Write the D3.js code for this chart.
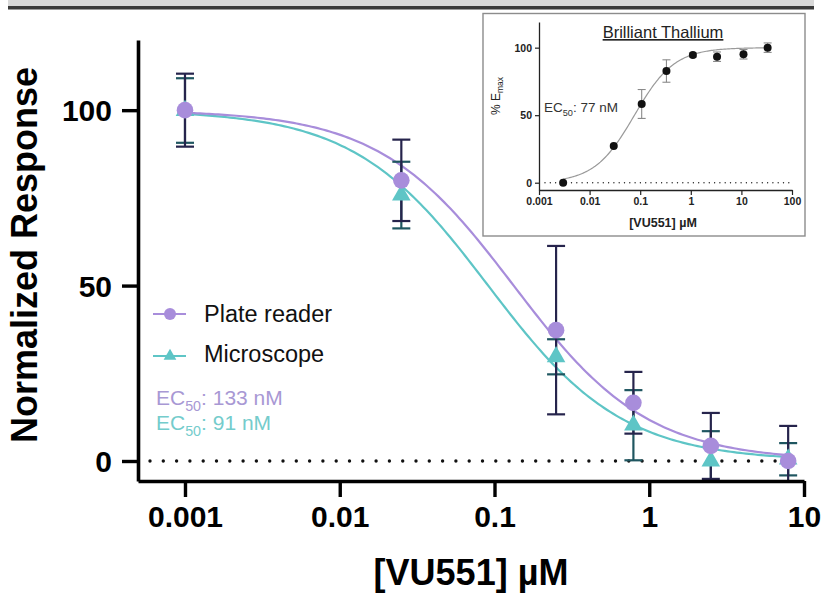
<!DOCTYPE html>
<html>
<head>
<meta charset="utf-8">
<script src="https://cdn.jsdelivr.net/npm/d3@7"></script>
<style>
  body { margin: 0; background: #fff; }
  svg { display: block; font-family: "Liberation Sans", Arial, Helvetica, sans-serif; }
</style>
</head>
<body>
<div id="chart"></div>
<script>
const W = 823, H = 594;

// ---------- data ----------
const doses = [0.001, 0.025, 0.25, 0.79, 2.5, 7.9];
const plateMean = [100, 80, 37.3, 16.6, 4.3, 0];
const plateErr = [10.4, 11.6, 24, 8.8, 9.4, 10];
const microMean = [99.9, 75.8, 29.7, 10.2, 0, 0.5];
const microErr = [9.2, 9.5, 5, 10, 8.5, 4.6];

// fitted curve parameters (EC50 in µM); hill < 0 means falling curve
const plateFit = {ec50: 0.133, hill: -1.0, top: 100, bottom: 0};
const microFit = {ec50: 0.091, hill: -1.0, top: 100, bottom: 0};

const xTicks = [0.001, 0.01, 0.1, 1, 10];
const yTicks = [0, 50, 100];

// inset: Brilliant Thallium
const insetDoses = [0.003, 0.03, 0.107, 0.33, 1.1, 3.3, 11, 33];
const insetMean = [0, 27.2, 58.3, 82.7, 94.6, 93.3, 95.1, 100];
const insetErr = [0, 0, 10.7, 8.3, 1.5, 3.5, 3.5, 3.5];
const insetFit = {ec50: 0.077, hill: 1.1, top: 100, bottom: 0};
const insetXTicks = [0.001, 0.01, 0.1, 1, 10, 100];
const insetYTicks = [0, 50, 100];

const purple = "#a88ddb", teal = "#5ec5c6";

const svg = d3.select("#chart").append("svg")
    .attr("width", W)
    .attr("height", H);

// grey header strip at top
svg.append("rect").attr("x", 8).attr("y", 0).attr("width", 806).attr("height", 6).attr("fill", "#d9d9d9");
svg.append("rect").attr("x", 8).attr("y", 6).attr("width", 806).attr("height", 3.5).attr("fill", "#3b3b3b");

// ---------- main chart ----------
const x = d3.scaleLog().domain([0.000497, 10]).range([138, 804]);
const y = d3.scaleLinear().domain([-5.7, 120]).range([481, 40]);

// 4-parameter logistic: rises with c when hill > 0
const hillFn = p => c => p.bottom + (p.top - p.bottom) / (1 + Math.pow(p.ec50 / c, p.hill));
const logRange = (a, b, n) => d3.range(0, n + 1).map(i => Math.pow(10, Math.log10(a) + i * (Math.log10(b) - Math.log10(a)) / n));
const curveX = logRange(0.001, 7.9, 200);

// dotted zero line
svg.append("line")
    .attr("x1", x.range()[0] + 12).attr("x2", 800)
    .attr("y1", y(0)).attr("y2", y(0))
    .attr("stroke", "#111").attr("stroke-width", 3.4)
    .attr("stroke-linecap", "round")
    .attr("stroke-dasharray", "0 13.3");

const line = d3.line().x(d => x(d[0])).y(d => y(d[1]));

svg.append("path")
    .attr("d", line(curveX.map(c => [c, hillFn(microFit)(c)])))
    .attr("fill", "none").attr("stroke", teal).attr("stroke-width", 2.2);
svg.append("path")
    .attr("d", line(curveX.map(c => [c, hillFn(plateFit)(c)])))
    .attr("fill", "none").attr("stroke", purple).attr("stroke-width", 2.2);

function errorBars(means, errs, color) {
    const lo = y.domain()[0];
    const g = svg.append("g").attr("stroke", color).attr("stroke-width", 2.2);
    doses.forEach((d, i) => {
        const top = means[i] + errs[i];
        const bot = Math.max(means[i] - errs[i], lo);
        const cx = x(d);
        g.append("line").attr("x1", cx).attr("x2", cx).attr("y1", y(top)).attr("y2", y(bot));
        g.append("line").attr("x1", cx - 9).attr("x2", cx + 9).attr("y1", y(top)).attr("y2", y(top));
        if (means[i] - errs[i] > lo)
            g.append("line").attr("x1", cx - 9).attr("x2", cx + 9).attr("y1", y(bot)).attr("y2", y(bot));
    });
}
errorBars(microMean, microErr, "#1f5660");
errorBars(plateMean, plateErr, "#26244c");

// markers
svg.append("g").selectAll("path")
    .data(doses.map((d, i) => [d, microMean[i]]))
    .join("path")
    .attr("transform", d => `translate(${x(d[0])},${y(d[1])})`)
    .attr("d", d3.symbol(d3.symbolTriangle, 150))
    .attr("fill", teal);
svg.append("g").selectAll("circle")
    .data(doses.map((d, i) => [d, plateMean[i]]))
    .join("circle")
    .attr("cx", d => x(d[0])).attr("cy", d => y(d[1]))
    .attr("r", 8.3)
    .attr("fill", purple);

// axes
const xAxis = svg.append("g")
    .attr("transform", `translate(0,${y.range()[0]})`)
    .call(d3.axisBottom(x).tickValues(xTicks).tickFormat(d => String(d)).tickSize(16).tickSizeOuter(0));
const yAxis = svg.append("g")
    .attr("transform", `translate(${x.range()[0]},0)`)
    .call(d3.axisLeft(y).tickValues(yTicks).tickSize(16).tickSizeOuter(0));
[xAxis, yAxis].forEach(a => {
    a.select(".domain").attr("stroke", "#000").attr("stroke-width", 3.6);
    a.selectAll(".tick line").attr("stroke", "#000").attr("stroke-width", 3.4);
    a.selectAll(".tick text").attr("fill", "#000")
        .style("font-size", "30px").style("font-weight", "bold")
        .style("font-family", "'Liberation Sans', Arial, sans-serif");
});
xAxis.selectAll(".tick text").attr("y", 25).attr("dy", "0.71em");
yAxis.selectAll(".tick text").attr("x", -26).attr("dy", "0.36em");

svg.append("text")
    .attr("x", 471).attr("y", 585)
    .attr("text-anchor", "middle")
    .style("font-size", "36px").style("font-weight", "bold")
    .text("[VU551] µM");
svg.append("text")
    .attr("transform", "translate(37,255) rotate(-90)")
    .attr("text-anchor", "middle")
    .style("font-size", "36px").style("font-weight", "bold")
    .text("Normalized Response");

// legend
const legend = [
    {label: "Plate reader", color: purple, sym: "circle", ly: 314, ty: 322},
    {label: "Microscope", color: teal, sym: "triangle", ly: 356, ty: 362}
];
legend.forEach(l => {
    svg.append("line").attr("x1", 153).attr("x2", 186).attr("y1", l.ly).attr("y2", l.ly)
        .attr("stroke", l.color).attr("stroke-width", 2);
    if (l.sym === "circle")
        svg.append("circle").attr("cx", 170).attr("cy", l.ly).attr("r", 6).attr("fill", l.color);
    else
        svg.append("path").attr("transform", `translate(170,${l.ly})`)
            .attr("d", d3.symbol(d3.symbolTriangle, 70)).attr("fill", l.color);
    svg.append("text").attr("x", 204).attr("y", l.ty)
        .style("font-size", "23.5px").attr("fill", "#111").text(l.label);
});

function ec50Label(g, xPos, yPos, value, color, size) {
    const t = g.append("text").attr("x", xPos).attr("y", yPos)
        .attr("fill", color).style("font-size", size + "px");
    t.append("tspan").text("EC");
    t.append("tspan").attr("dy", size * 0.28).style("font-size", (size * 0.68) + "px").text("50");
    t.append("tspan").attr("dy", -size * 0.28).text(": " + value);
}
ec50Label(svg, 156, 405, "133 nM", "#a898d4", 21);
ec50Label(svg, 156, 430, "91 nM", "#74cccc", 21);

// ---------- inset ----------
const inset = svg.append("g");
inset.append("rect")
    .attr("x", 483).attr("y", 13.5).attr("width", 322).attr("height", 222.5)
    .attr("fill", "#fff").attr("stroke", "#8c8c8c").attr("stroke-width", 1.4);

const ix = d3.scaleLog().domain([0.001, 100]).range([539, 792]);
const iy = d3.scaleLinear().domain([-5.4, 119]).range([190, 22]);

inset.append("line")
    .attr("x1", 545).attr("x2", 791).attr("y1", iy(0)).attr("y2", iy(0))
    .attr("stroke", "#222").attr("stroke-width", 1.4)
    .attr("stroke-linecap", "round").attr("stroke-dasharray", "0 5.3");

const iCurveX = logRange(0.003, 33, 160);
const iline = d3.line().x(d => ix(d[0])).y(d => iy(d[1]));
inset.append("path")
    .attr("d", iline(iCurveX.map(c => [c, hillFn(insetFit)(c)])))
    .attr("fill", "none").attr("stroke", "#9a9a9a").attr("stroke-width", 1.2);

const ieg = inset.append("g").attr("stroke", "#8a8a8a").attr("stroke-width", 1.1);
insetDoses.forEach((d, i) => {
    if (!insetErr[i]) return;
    const cx = ix(d), t = iy(insetMean[i] + insetErr[i]), b = iy(insetMean[i] - insetErr[i]);
    ieg.append("line").attr("x1", cx).attr("x2", cx).attr("y1", t).attr("y2", b);
    ieg.append("line").attr("x1", cx - 4).attr("x2", cx + 4).attr("y1", t).attr("y2", t);
    ieg.append("line").attr("x1", cx - 4).attr("x2", cx + 4).attr("y1", b).attr("y2", b);
});
inset.append("g").selectAll("circle")
    .data(insetDoses.map((d, i) => [d, insetMean[i]]))
    .join("circle")
    .attr("cx", d => ix(d[0])).attr("cy", d => iy(d[1]))
    .attr("r", 4).attr("fill", "#111");

const ixAxis = inset.append("g")
    .attr("transform", `translate(0,${iy.range()[0]})`)
    .call(d3.axisBottom(ix).tickValues(insetXTicks).tickFormat(d => String(d)).tickSize(5).tickSizeOuter(0));
const iyAxis = inset.append("g")
    .attr("transform", `translate(${ix.range()[0]},0)`)
    .call(d3.axisLeft(iy).tickValues(insetYTicks).tickSize(4).tickSizeOuter(0));
[ixAxis, iyAxis].forEach(a => {
    a.select(".domain").attr("stroke", "#222").attr("stroke-width", 1.3);
    a.selectAll(".tick line").attr("stroke", "#222").attr("stroke-width", 1.2);
    a.selectAll(".tick text").attr("fill", "#222")
        .style("font-size", "10.5px").style("font-weight", "bold")
        .style("font-family", "'Liberation Sans', Arial, sans-serif");
});
ixAxis.selectAll(".tick text").attr("y", 8).attr("dy", "0.71em");
iyAxis.selectAll(".tick text").attr("x", -7).attr("dy", "0.36em");

inset.append("text")
    .attr("x", 663).attr("y", 227)
    .attr("text-anchor", "middle")
    .style("font-size", "12.5px").style("font-weight", "bold").attr("fill", "#222")
    .text("[VU551] µM");

const ylab = inset.append("text")
    .attr("transform", "translate(500,96) rotate(-90)")
    .attr("text-anchor", "middle")
    .style("font-size", "12px").attr("fill", "#222");
ylab.append("tspan").text("% E");
ylab.append("tspan").attr("dy", 3).style("font-size", "8.5px").text("max");

inset.append("text")
    .attr("x", 663).attr("y", 38)
    .attr("text-anchor", "middle")
    .style("font-size", "16.5px").style("text-decoration", "underline").attr("fill", "#222")
    .text("Brilliant Thallium");

ec50Label(inset, 544, 112, "77 nM", "#333", 13.5);
</script>
</body>
</html>
